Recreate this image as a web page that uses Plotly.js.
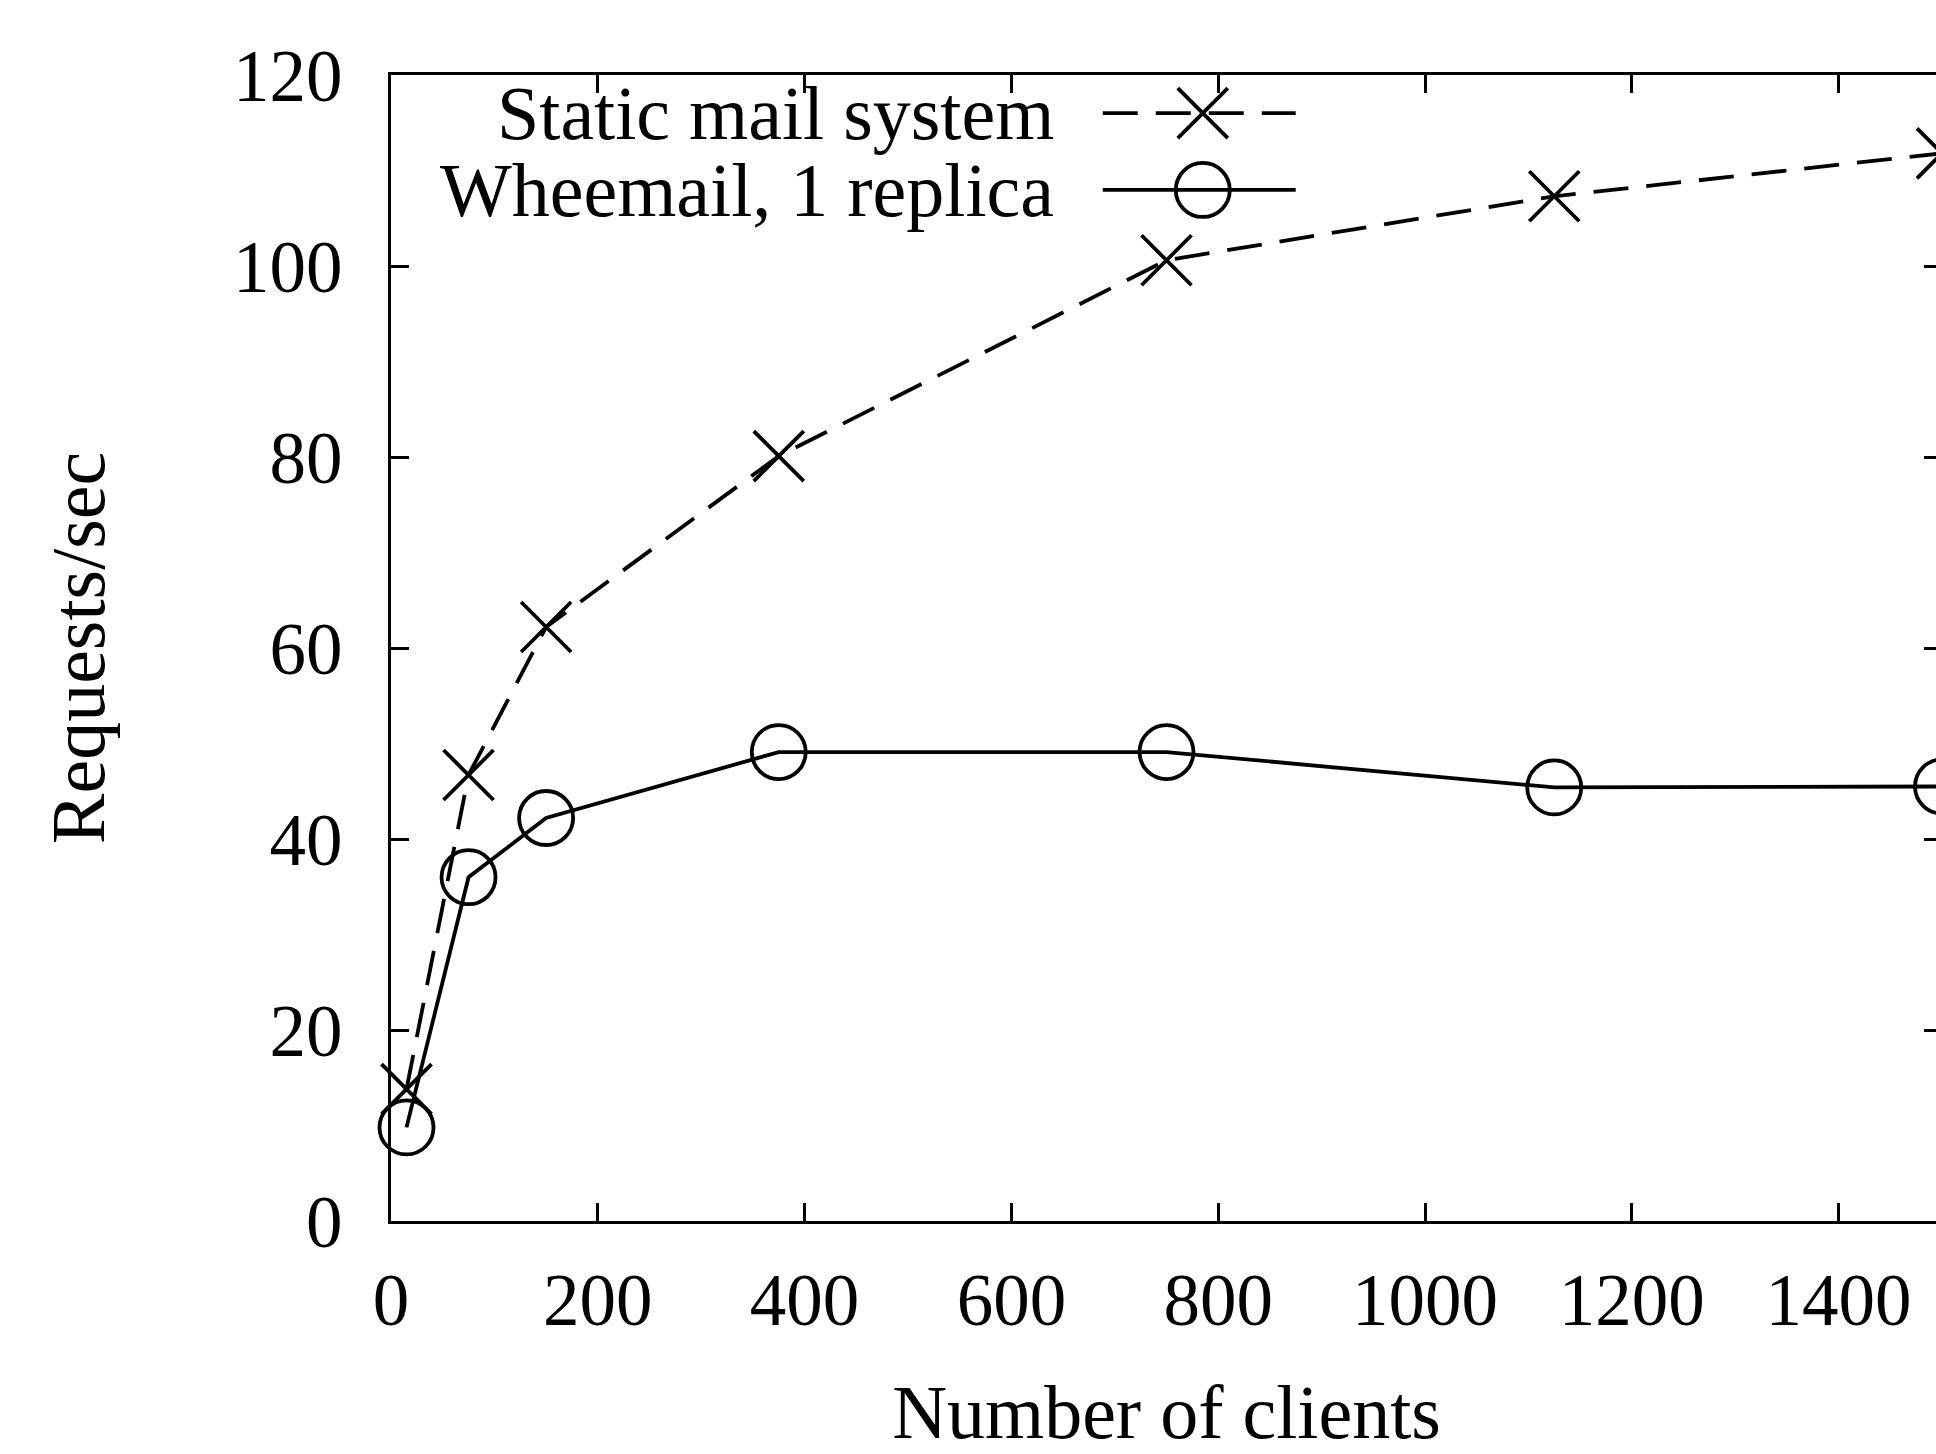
<!DOCTYPE html>
<html>
<head>
<meta charset="utf-8">
<script src="https://cdn.plot.ly/plotly-3.0.1.min.js"></script>
<style>
html, body { margin: 0; padding: 0; overflow: hidden; background: #fff; }
#chart { width: 1950px; height: 1454px; }
</style>
</head>
<body>
<div id="chart"></div>
<script>
// Data
const clients = [15, 75, 150, 375, 750, 1125, 1500];
const staticMail = [13.8, 46.7, 62.2, 80.1, 100.6, 107.3, 111.8];
const wheemail = [9.8, 36.0, 42.2, 49.1, 49.1, 45.4, 45.5];
const seriesNames = ["Static mail system", "Wheemail, 1 replica"];
const xTicks = [0, 200, 400, 600, 800, 1000, 1200, 1400];
const yTicks = [0, 20, 40, 60, 80, 100, 120];

const FONT = "Liberation Serif, Times New Roman, serif";
const LW = 3.8;
const DASH = "35px,18px";
const X_SIZE = 50;
const O_SIZE = 54;

// Legend sample geometry (fractions on hidden overlay axes)
const legLineX = [0.4589, 0.5833];
const legMarkX = [0.5234];
const legY1 = 0.9668, legY2 = 0.8997;

const xMarker = {symbol: "x-thin-open", size: X_SIZE, color: "#000", line: {color: "#000", width: LW}};
const oMarker = {symbol: "circle-open", size: O_SIZE, color: "#000", line: {color: "#000", width: LW}};

const traces = [
  {
    x: clients, y: staticMail, name: seriesNames[0], type: "scatter", mode: "lines+markers",
    line: {color: "#000", width: LW, dash: DASH}, marker: xMarker,
    cliponaxis: false, showlegend: false
  },
  {
    x: clients, y: wheemail, name: seriesNames[1], type: "scatter", mode: "lines+markers",
    line: {color: "#000", width: LW}, marker: oMarker,
    cliponaxis: false, showlegend: false
  },
  // legend samples
  {x: legLineX, y: [legY1, legY1], xaxis: "x2", yaxis: "y2", type: "scatter", mode: "lines",
   line: {color: "#000", width: LW, dash: DASH}, cliponaxis: false, showlegend: false, hoverinfo: "skip"},
  {x: legMarkX, y: [legY1], xaxis: "x2", yaxis: "y2", type: "scatter", mode: "markers",
   marker: xMarker, cliponaxis: false, showlegend: false, hoverinfo: "skip"},
  {x: legLineX, y: [legY2, legY2], xaxis: "x2", yaxis: "y2", type: "scatter", mode: "lines",
   line: {color: "#000", width: LW}, cliponaxis: false, showlegend: false, hoverinfo: "skip"},
  {x: legMarkX, y: [legY2], xaxis: "x2", yaxis: "y2", type: "scatter", mode: "markers",
   marker: oMarker, cliponaxis: false, showlegend: false, hoverinfo: "skip"}
];

const axisCommon = {
  showline: true, linecolor: "#000", linewidth: 3, mirror: "ticks",
  ticks: "inside", ticklen: 18, tickwidth: 3, tickcolor: "#000",
  showgrid: false, zeroline: false,
  tickfont: {family: FONT, size: 73, color: "#000"}
};

const layout = {
  width: 1950, height: 1454,
  margin: {l: 391, r: 7.5, t: 75, b: 233, pad: 0},
  paper_bgcolor: "#fff", plot_bgcolor: "#fff",
  font: {family: FONT, color: "#000"},
  showlegend: false,
  xaxis: Object.assign({}, axisCommon, {
    range: [0, 1500], tickvals: xTicks, ticktext: xTicks.map(String),
    ticklabelstandoff: 13,
    title: {text: "Number of clients", font: {family: FONT, size: 76, color: "#000"}, standoff: 72}
  }),
  yaxis: Object.assign({}, axisCommon, {
    range: [0, 120], tickvals: yTicks, ticktext: yTicks.map(String),
    ticklabelstandoff: 31,
    title: {text: "Requests/sec", font: {family: FONT, size: 76, color: "#000"}, standoff: 104}
  }),
  xaxis2: {overlaying: "x", range: [0, 1], visible: false, fixedrange: true},
  yaxis2: {overlaying: "y", range: [0, 1], visible: false, fixedrange: true},
  annotations: [
    {xref: "paper", yref: "paper", x: 0.4286, y: legY1, xanchor: "right", yanchor: "middle",
     text: seriesNames[0], showarrow: false, font: {family: FONT, size: 76, color: "#000"}},
    {xref: "paper", yref: "paper", x: 0.4286, y: legY2, xanchor: "right", yanchor: "middle",
     text: seriesNames[1], showarrow: false, font: {family: FONT, size: 76, color: "#000"}}
  ]
};

Plotly.newPlot("chart", traces, layout, {staticPlot: true, displayModeBar: false});
</script>
</body>
</html>
